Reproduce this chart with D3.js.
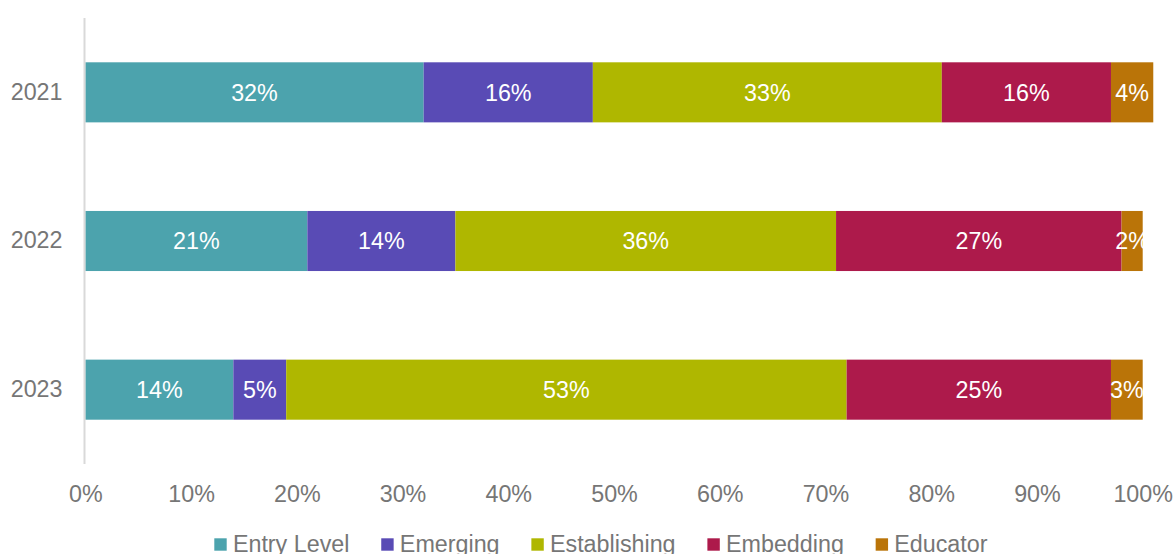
<!DOCTYPE html>
<html>
<head>
<meta charset="utf-8">
<script src="https://cdn.jsdelivr.net/npm/d3@7"></script>
<style>
  html, body { margin: 0; padding: 0; background: #ffffff; }
  svg { display: block; font-family: "Liberation Sans", Arial, sans-serif; }
</style>
</head>
<body>
<svg id="chart" width="1175" height="554"></svg>
<script>
// Survey years (one bar each) and the share of respondents in each stage
const years = ["2021", "2022", "2023"];
const stages = ["Entry Level", "Emerging", "Establishing", "Embedding", "Educator"];
const entryLevel   = [32, 21, 14];
const emerging     = [16, 14, 5];
const establishing = [33, 36, 53];
const embedding    = [16, 27, 25];
const educator     = [4, 2, 3];
const xTicks = [0, 10, 20, 30, 40, 50, 60, 70, 80, 90, 100];
const stageColors = ["#4ca3ad", "#594bb5", "#afb700", "#ad1a4b", "#ba7408"];

const seriesValues = [entryLevel, emerging, establishing, embedding, educator];
const rows = years.map((y, i) => {
  const r = { year: y };
  stages.forEach((s, k) => { r[s] = seriesValues[k][i]; });
  return r;
});

const svg = d3.select("#chart");
const fontSize = 23.3;
const textGrey = "#767676";

const x = d3.scaleLinear().domain([0, 100]).range([85.3, 1142.7]);
const y = d3.scaleBand().domain(years).range([18, 464])
  .paddingInner(0.596).paddingOuter(0.298);
const color = d3.scaleOrdinal().domain(stages).range(stageColors);

const stacked = d3.stack().keys(stages)(rows);

// Bars
const layers = svg.append("g").selectAll("g")
  .data(stacked).join("g")
  .attr("fill", d => color(d.key));

layers.selectAll("rect")
  .data(d => d.map(v => ({ v, key: d.key })))
  .join("rect")
  .attr("x", d => x(d.v[0]))
  .attr("y", d => y(d.v.data.year))
  .attr("width", d => x(d.v[1]) - x(d.v[0]))
  .attr("height", y.bandwidth());

// Value labels inside the segments
const labels = svg.append("g");
stacked.forEach(layer => {
  layer.forEach(v => {
    labels.append("text")
      .attr("x", (x(v[0]) + x(v[1])) / 2)
      .attr("y", y(v.data.year) + y.bandwidth() / 2)
      .attr("dy", "0.36em")
      .attr("text-anchor", "middle")
      .attr("fill", "#ffffff")
      .attr("font-size", fontSize)
      .text(v.data[layer.key] + "%");
  });
});

// Category axis line
svg.append("line")
  .attr("x1", 84.5).attr("x2", 84.5)
  .attr("y1", 18).attr("y2", 464)
  .attr("stroke", "#d9d9d9").attr("stroke-width", 2);

// Year labels
const yAxis = d3.axisLeft(y).tickSize(0).tickPadding(22);
svg.append("g")
  .attr("transform", "translate(84.5,0)")
  .call(yAxis)
  .call(g => g.select(".domain").remove())
  .call(g => g.selectAll("text")
    .attr("fill", textGrey)
    .attr("font-size", fontSize)
    .attr("font-family", "Liberation Sans, Arial, sans-serif"));

// Percentage axis labels
const xAxis = d3.axisBottom(x).tickValues(xTicks).tickFormat(d => d + "%")
  .tickSize(0).tickPadding(0);
svg.append("g")
  .attr("transform", "translate(0,464)")
  .call(xAxis)
  .call(g => g.select(".domain").remove())
  .call(g => g.selectAll("text")
    .attr("fill", textGrey)
    .attr("font-size", fontSize)
    .attr("font-family", "Liberation Sans, Arial, sans-serif")
    .attr("dy", null)
    .attr("y", 37.7));

// Legend
const legend = svg.append("g");
let lx = 214.3;
stages.forEach(s => {
  legend.append("rect")
    .attr("x", lx).attr("y", 538.3)
    .attr("width", 12.4).attr("height", 12.4)
    .attr("fill", color(s));
  const t = legend.append("text")
    .attr("x", lx + 18.6).attr("y", 551.7)
    .attr("fill", textGrey)
    .attr("font-size", fontSize)
    .text(s);
  lx += 18.6 + t.node().getComputedTextLength() + 31.8;
});
</script>
</body>
</html>
